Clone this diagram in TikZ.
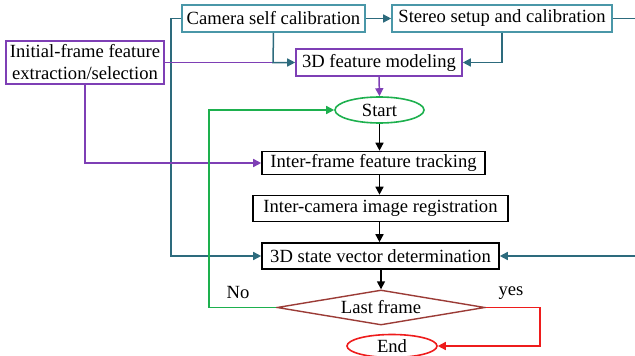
\documentclass[tikz,border=0pt]{standalone}
\usepackage{fontspec}
\setmainfont{Liberation Serif}
\usetikzlibrary{shapes.geometric,arrows.meta}

\definecolor{tealbox}{HTML}{4A97A8}
\definecolor{tealline}{HTML}{2D6B7D}
\definecolor{purp}{HTML}{7E3FB5}
\definecolor{grn}{HTML}{1DB04E}
\definecolor{darkred}{HTML}{9B3B36}
\definecolor{brightred}{HTML}{EE1C1C}

\tikzset{
  every node/.style={inner sep=0pt, font=\fontsize{18.6}{22}\selectfont},
  box/.style={draw, rectangle, line width=1.6pt, minimum height=26pt},
  tealnode/.style={box, draw=tealbox},
  purpnode/.style={box, draw=purp},
  blknode/.style={box, draw=black},
  oval/.style={draw, ellipse, line width=1.6pt},
  tip/.style={-{Triangle[length=8pt,width=8pt]}},
  conn/.style={line width=1.5pt},
}

\begin{document}
\begin{tikzpicture}[x=1pt, y=-1pt]
\useasboundingbox (0,0) rectangle (635,356);
\clip (0,0) rectangle (635,356);

% boxes
\node[tealnode, minimum width=183pt, minimum height=27pt] (cam) at (273.5,18.5) {Camera self calibration};
\node[tealnode, minimum width=220pt, minimum height=27pt] (stereo) at (502,18.5) {Stereo setup and calibration};
\node[purpnode, minimum width=158pt, minimum height=43pt, align=center] (init) at (85,62.5) {Initial-frame feature\\extraction/selection};
\node[purpnode, minimum width=166pt, minimum height=27pt] (feat) at (379,62.5) {3D feature modeling};
\node[oval, draw=grn, minimum width=89pt, minimum height=26pt, label=center:Start] (start) at (379.5,110) {};
\node[blknode, minimum width=223pt, minimum height=23pt] (track) at (373.5,163) {Inter-frame feature tracking};
\node[blknode, minimum width=255pt, minimum height=26pt] (regis) at (380.5,208.5) {Inter-camera image registration};
\node[blknode, minimum width=237pt, minimum height=26pt] (state) at (380.5,256) {3D state vector determination};
\node[draw=darkred, diamond, line width=1.4pt, minimum width=208pt, minimum height=35pt, label=center:Last frame] (last) at (381,307.5) {};
\node[oval, draw=brightred, minimum width=90pt, minimum height=23pt, label=center:End] (end) at (392,346) {};

% labels of the decision branches
\node (no) at (238,292) {No};
\node (yes) at (511,293) {yes};

% teal connectors
\draw[conn, tealline, tip] (cam.east) -- (stereo.west);
\draw[conn, tealline, tip] (stereo.east) -- (650,18.5) -- (650,256) -- (state.east);
\draw[conn, tealline, tip] (cam.west) -- (171,18.5) -- (171,256) -- (state.west);
\draw[conn, purp] (init.east) -- (273,62.5);
\draw[conn, tealline, tip] (cam.south) -- (273,62.5) -- (feat.west);
\draw[conn, tealline, tip] (stereo.south) -- (502,62.5) -- (feat.east);

% purple connectors
\draw[conn, purp, tip] (init.south) -- (85,163) -- (track.west);
\draw[conn, purp, tip] (feat.south) -- (start.north);

% main flow
\draw[conn, black, tip] (start.south) -- (start.south |- track.north);
\draw[conn, black, tip] (start.south |- track.south) -- (start.south |- regis.north);
\draw[conn, black, tip] (start.south |- regis.south) -- (start.south |- state.north);
\draw[conn, black, tip] (last.north |- state.south) -- (last.north);

% loop back and exit
\draw[conn, grn, tip] (last.west) -- (209,307.5) -- (209,110) -- (start.west);
\draw[conn, brightred, tip] (last.east) -- (540,307.5) -- (540,346) -- (end.east);
\end{tikzpicture}
\end{document}
